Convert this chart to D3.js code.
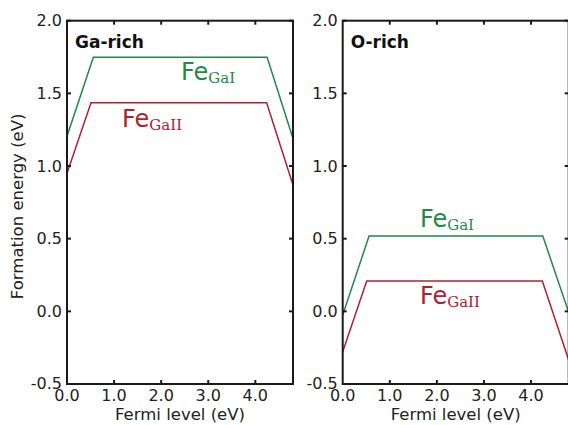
<!DOCTYPE html>
<html>
<head>
<meta charset="utf-8">
<script src="https://cdn.jsdelivr.net/npm/d3@7"></script>
<style>
	body { margin: 0; background: #fff; }
	svg { display: block; }
	.tick_label { font-family: "DejaVu Sans", sans-serif; font-size: 16px; fill: #222; }
	.axis_title { font-family: "DejaVu Sans", sans-serif; font-size: 16.5px; fill: #222; }
	.panel_title { font-family: "DejaVu Sans", sans-serif; font-size: 17px; font-weight: bold; fill: #111; }
</style>
</head>
<body>
<div id="div_id_main"></div>
<script>

var WIDTH = 568;
var HEIGHT = 425;

// Fermi level (eV) at the kinks, same for both panels
var vFermi_GaI = [0.0, 0.56, 4.25, 4.8];
var vFermi_GaII = [0.0, 0.51, 4.24, 4.8];

// formation energies (eV)
var vGaRich_GaI = [1.205, 1.748, 1.748, 1.19];
var vGaRich_GaII = [0.95, 1.436, 1.436, 0.87];
var vORich_GaI = [-0.025, 0.518, 0.518, -0.007];
var vORich_GaII = [-0.278, 0.209, 0.209, -0.335];

var vPanelTitles = ["Ga-rich", "O-rich"];

var vXTicks = [0, 1, 2, 3, 4];
var vYTicks = [-0.5, 0.0, 0.5, 1.0, 1.5, 2.0];

var COLOR_GAI = "#1e8a45";
var COLOR_GAII = "#ad222f";

var PANEL_W = 226;
var PANEL_H = 363.3;
var PANEL_TOP = 20.7;
var vPanelLeft = [67, 342.7];

// label anchors in data coordinates [x, y]
var vLabels = [
	[{ x: 2.42, y: 1.592, sub: "GaI", color: COLOR_GAI }, { x: 1.17, y: 1.27, sub: "GaII", color: COLOR_GAII }],
	[{ x: 1.64, y: 0.582, sub: "GaI", color: COLOR_GAI }, { x: 1.64, y: 0.05, sub: "GaII", color: COLOR_GAII }]
];

function funcDraw_Main() {

	let svgMain = d3.select("#div_id_main")
					.append("svg")
						.attr("width", WIDTH)
						.attr("height", HEIGHT);

	let fScale_X = d3.scaleLinear()
						.domain([0, 4.8])
						.range([0, PANEL_W]);

	let fScale_Y = d3.scaleLinear()
						.domain([-0.5, 2.0])
						.range([PANEL_H, 0]);

	let dsPanels = [
		[{ xs: vFermi_GaI, ys: vGaRich_GaI, color: COLOR_GAI }, { xs: vFermi_GaII, ys: vGaRich_GaII, color: COLOR_GAII }],
		[{ xs: vFermi_GaI, ys: vORich_GaI, color: COLOR_GAI }, { xs: vFermi_GaII, ys: vORich_GaII, color: COLOR_GAII }]
	];

	for (let p = 0; p < dsPanels.length; p++) {

		let gPanel = svgMain.append("g")
						.attr("transform", "translate(" + vPanelLeft[p] + "," + PANEL_TOP + ")");

		// ---- lines
		let line = d3.line()
						.x(function (d) { return fScale_X(d[0]); })
						.y(function (d) { return fScale_Y(d[1]); });

		gPanel.append("clipPath")
				.attr("id", "clip_" + p)
				.append("rect")
					.attr("width", PANEL_W)
					.attr("height", PANEL_H);

		for (let s = 0; s < dsPanels[p].length; s++) {

			let ser = dsPanels[p][s];
			let pts = ser.xs.map(function (x, i) { return [x, ser.ys[i]]; });

			gPanel.append("path")
					.attr("d", line(pts))
					.attr("clip-path", "url(#clip_" + p + ")")
					.attr("fill", "none")
					.attr("stroke", ser.color)
					.attr("stroke-width", 1.5);
		}

		// ---- labels
		for (let l = 0; l < vLabels[p].length; l++) {

			let lab = vLabels[p][l];

			let txt = gPanel.append("text")
						.attr("x", fScale_X(lab.x))
						.attr("y", fScale_Y(lab.y))
						.attr("fill", lab.color);

			txt.append("tspan")
					.style("font-family", "'DejaVu Sans', sans-serif")
					.style("font-size", "24px")
					.text("Fe");

			txt.append("tspan")
					.attr("dy", 3)
					.style("font-family", "'DejaVu Serif', serif")
					.style("font-size", "15px")
					.text(lab.sub);
		}

		// ---- frame
		gPanel.append("rect")
				.attr("width", PANEL_W)
				.attr("height", PANEL_H)
				.attr("fill", "none")
				.attr("stroke", "#1a1a1a")
				.attr("stroke-width", 2);

		// ---- ticks (inward, all four sides)
		let tickLen = 4;

		let gTicks = gPanel.append("g")
						.attr("stroke", "#1a1a1a")
						.attr("stroke-width", 2);

		vXTicks.forEach(function (t) {
			if (t == 0) return;
			gTicks.append("line")
					.attr("x1", fScale_X(t)).attr("x2", fScale_X(t))
					.attr("y1", PANEL_H).attr("y2", PANEL_H - tickLen);
			gTicks.append("line")
					.attr("x1", fScale_X(t)).attr("x2", fScale_X(t))
					.attr("y1", 0).attr("y2", tickLen);
		});

		vYTicks.forEach(function (t) {
			gTicks.append("line")
					.attr("x1", 0).attr("x2", tickLen)
					.attr("y1", fScale_Y(t)).attr("y2", fScale_Y(t));
			gTicks.append("line")
					.attr("x1", PANEL_W).attr("x2", PANEL_W - tickLen)
					.attr("y1", fScale_Y(t)).attr("y2", fScale_Y(t));
		});

		// ---- tick labels
		gPanel.selectAll("text.text_class_xtick")
				.data(vXTicks)
				.enter()
				.append("text")
					.attr("class", "tick_label text_class_xtick")
					.attr("text-anchor", "middle")
					.attr("x", function (d) { return fScale_X(d); })
					.attr("y", PANEL_H + 17.5)
					.text(function (d) { return d.toFixed(1); });

		gPanel.selectAll("text.text_class_ytick")
				.data(vYTicks)
				.enter()
				.append("text")
					.attr("class", "tick_label text_class_ytick")
					.attr("text-anchor", "end")
					.attr("x", -5)
					.attr("y", function (d) { return fScale_Y(d) + 5.5; })
					.text(function (d) { return d.toFixed(1); });

		// ---- titles
		gPanel.append("text")
				.attr("class", "panel_title")
				.attr("x", 8)
				.attr("y", 27.6)
				.text(vPanelTitles[p]);

		gPanel.append("text")
				.attr("class", "axis_title")
				.attr("text-anchor", "middle")
				.attr("x", PANEL_W / 2)
				.attr("y", PANEL_H + 36)
				.text("Fermi level (eV)");
	}

	svgMain.append("text")
			.attr("class", "axis_title")
			.attr("text-anchor", "middle")
			.attr("transform", "translate(23," + (PANEL_TOP + PANEL_H / 2 + 4) + ") rotate(-90)")
			.text("Formation energy (eV)");
}

funcDraw_Main();

</script>
</body>
</html>
